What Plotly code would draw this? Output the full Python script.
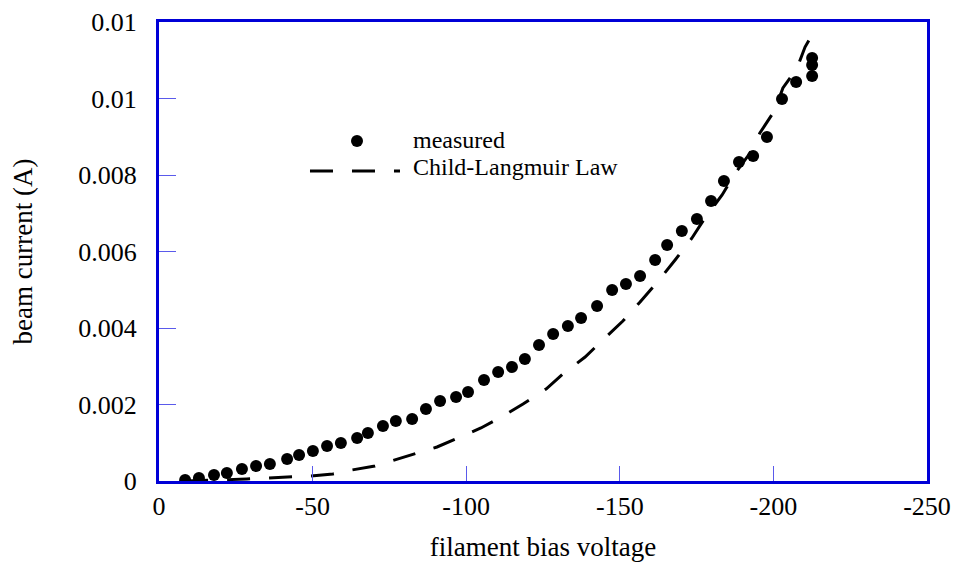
import plotly.graph_objects as go

# measured data (filament bias voltage [V], beam current [A])
meas_v = [-8.5, -13.0, -17.9, -22.1, -27.0, -31.6, -36.1, -41.7, -45.6, -50.1,
          -54.7, -59.2, -64.5, -68.0, -72.9, -77.1, -82.4, -86.9, -91.5, -96.7,
          -100.6, -105.8, -110.4, -114.9, -119.1, -123.7, -128.3, -133.1, -137.4, -142.6,
          -147.5, -152.0, -156.6, -161.5, -165.4, -170.2, -175.1, -179.7, -183.9, -188.8,
          -193.4, -197.9, -202.8, -207.4, -212.6, -212.6, -212.6]
meas_i = [0.000026, 0.000078, 0.000157, 0.000209, 0.000314, 0.000392, 0.000444, 0.000575, 0.000680, 0.000784,
          0.000915, 0.000993, 0.001124, 0.001255, 0.001438, 0.001569, 0.001621, 0.001882, 0.002092, 0.002196,
          0.002327, 0.002641, 0.002850, 0.002980, 0.003190, 0.003556, 0.003843, 0.004052, 0.004261, 0.004575,
          0.004993, 0.005150, 0.005359, 0.005778, 0.006170, 0.006536, 0.006850, 0.007320, 0.007843, 0.008340,
          0.008497, 0.008993, 0.009987, 0.010431, 0.010588, 0.010876, 0.011059]

# Child-Langmuir law curve
cl_v = [-8.5, -22.5, -28.6, -35.2, -42.6, -49.2, -56.6, -62.8, -70.3, -76.8,
        -84.3, -90.5, -98.0, -104.8, -112.0, -118.5, -126.0, -131.5, -138.7, -144.5,
        -151.0, -156.6, -162.8, -168.0, -173.5, -177.7, -183.3, -187.2, -192.4, -195.6,
        -200.5, -203.1, -207.7, -210.3, -212.9]
cl_i = [0.0, 0.000026, 0.000052, 0.000078, 0.000105, 0.000131, 0.000183, 0.000288, 0.000392, 0.000549,
        0.000732, 0.000889, 0.001150, 0.001386, 0.001699, 0.002013, 0.002405, 0.002797, 0.003242, 0.003686,
        0.004183, 0.004680, 0.005255, 0.005778, 0.006353, 0.006876, 0.007477, 0.008000, 0.008575, 0.009098,
        0.009699, 0.010275, 0.010797, 0.011346, 0.011712]

x_tickvals = [0, -50, -100, -150, -200, -250]
x_ticktext = ["0", "-50", "-100", "-150", "-200", "-250"]
y_tickvals = [0, 0.002, 0.004, 0.006, 0.008, 0.010, 0.012]
y_ticktext = ["0", "0.002", "0.004", "0.006", "0.008", "0.01", "0.01"]

FONT = "Liberation Serif, Times New Roman, serif"
AXIS_BLUE = "rgb(0,0,215)"
TICK_BLUE = "rgb(90,90,235)"
DASH = "23px,19px"

fig = go.Figure()
fig.add_trace(go.Scatter(x=cl_v, y=cl_i, mode="lines", name="Child-Langmuir Law",
                         line=dict(color="black", width=3, dash=DASH), showlegend=False))
fig.add_trace(go.Scatter(x=meas_v, y=meas_i, mode="markers", name="measured",
                         marker=dict(color="black", size=12, line=dict(width=0)), showlegend=False))

# legend drawn manually
fig.add_shape(type="circle", xref="paper", yref="paper", xsizemode="pixel", ysizemode="pixel",
              xanchor=0.2578, yanchor=0.7407, x0=-6, x1=6, y0=-6, y1=6,
              fillcolor="black", line=dict(width=0))
fig.add_shape(type="line", xref="paper", yref="paper", x0=0.1966, x1=0.3138, y0=0.6754, y1=0.6754,
              line=dict(color="black", width=3, dash=DASH))
fig.add_annotation(text="measured", xref="paper", yref="paper", x=0.329, y=0.744,
                   xanchor="left", yanchor="middle", showarrow=False, borderpad=0,
                   font=dict(family=FONT, size=24, color="black"))
fig.add_annotation(text="Child-Langmuir Law", xref="paper", yref="paper", x=0.329, y=0.684,
                   xanchor="left", yanchor="middle", showarrow=False, borderpad=0,
                   font=dict(family=FONT, size=24, color="black"))

fig.update_layout(
    width=959, height=567,
    margin=dict(l=159, r=32, t=22, b=86),
    paper_bgcolor="white", plot_bgcolor="white",
    font=dict(family=FONT, size=25, color="black"),
    xaxis=dict(range=[0, -250], tickvals=x_tickvals, ticktext=x_ticktext,
               showgrid=False, zeroline=False, automargin=False,
               showline=True, linecolor=AXIS_BLUE, linewidth=3, mirror=True,
               ticks="inside", ticklen=15, tickwidth=1, tickcolor=TICK_BLUE,
               tickfont=dict(family=FONT, size=26, color="black"),
               title=dict(text="filament bias voltage", font=dict(family=FONT, size=27), standoff=17)),
    yaxis=dict(range=[0, 0.012], tickvals=y_tickvals, ticktext=y_ticktext,
               showgrid=False, zeroline=False, automargin=False,
               showline=True, linecolor=AXIS_BLUE, linewidth=3, mirror=True,
               ticks="inside", ticklen=17, tickwidth=1, tickcolor=TICK_BLUE,
               ticklabelstandoff=14,
               tickfont=dict(family=FONT, size=26, color="black"),
               title=dict(text="beam current (A)", font=dict(family=FONT, size=27), standoff=38)),
)

fig.write_html("out.html")
